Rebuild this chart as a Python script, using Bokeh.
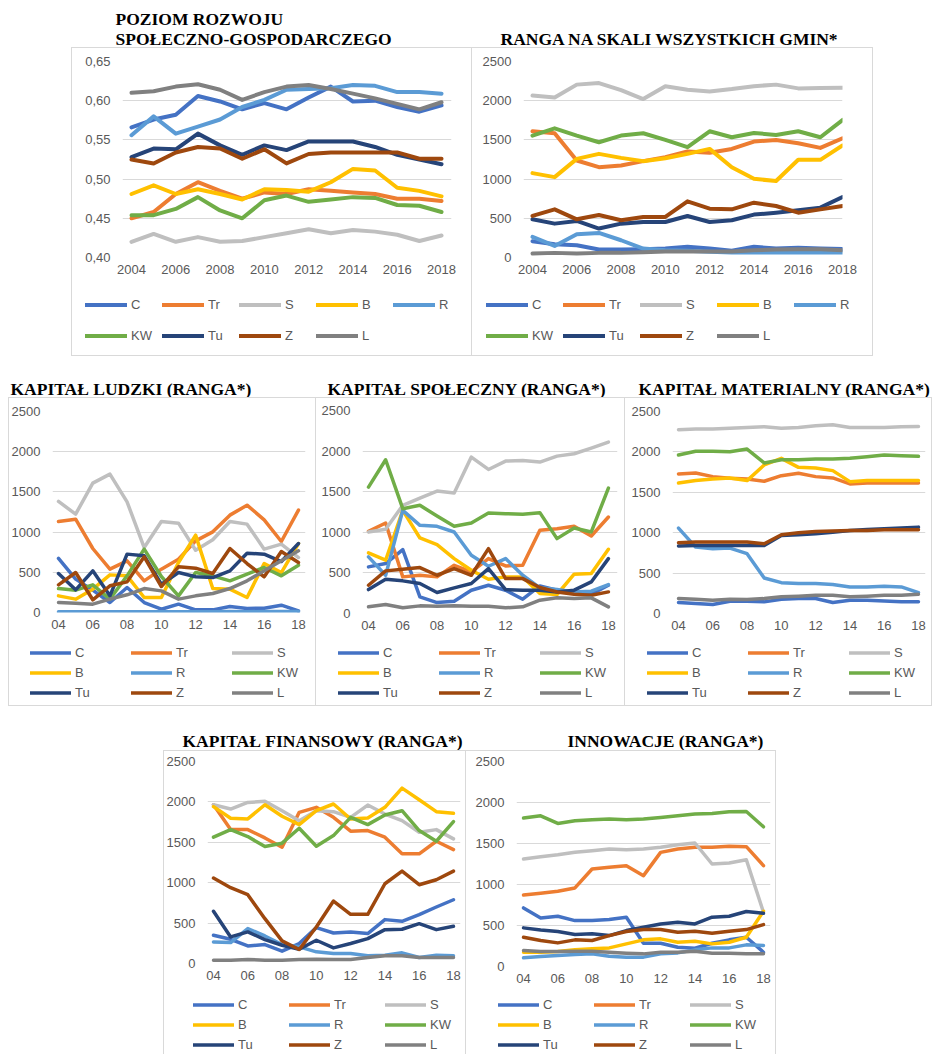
from bokeh.plotting import figure
from bokeh.models import (Range1d, FixedTicker, CustomJSTickFormatter, Legend,
                          LegendItem, Spacer, Label)
from bokeh.layouts import row, column
from bokeh.embed import file_html
from bokeh.resources import INLINE

# ---------------- data ----------------
years = list(range(2004, 2019))
series = ["C", "Tr", "S", "B", "R", "KW", "Tu", "Z", "L"]
colors = ["#4472C4", "#ED7D31", "#BFBFBF", "#FFC000", "#5B9BD5",
          "#70AD47", "#264478", "#9E480E", "#808080"]

year_ticks = [2004, 2006, 2008, 2010, 2012, 2014, 2016, 2018]
long_year_labels = ["2004", "2006", "2008", "2010", "2012", "2014", "2016", "2018"]
short_year_labels = ["04", "06", "08", "10", "12", "14", "16", "18"]
level_ticks = [0.40, 0.45, 0.50, 0.55, 0.60, 0.65]
level_labels = ["0,40", "0,45", "0,50", "0,55", "0,60", "0,65"]
rank_ticks = [0, 500, 1000, 1500, 2000, 2500]
rank_labels = ["0", "500", "1000", "1500", "2000", "2500"]

titles = [["POZIOM ROZWOJU", "SPOŁECZNO-GOSPODARCZEGO"],
          ["RANGA NA SKALI WSZYSTKICH GMIN*"],
          ["KAPITAŁ LUDZKI (RANGA*)"],
          ["KAPITAŁ SPOŁECZNY (RANGA*)"],
          ["KAPITAŁ MATERIALNY (RANGA*)"],
          ["KAPITAŁ FINANSOWY (RANGA*)"],
          ["INNOWACJE (RANGA*)"]]

poziom = {
    "C":  [0.566, 0.576, 0.582, 0.606, 0.599, 0.589, 0.597, 0.589, 0.604, 0.618, 0.599, 0.600, 0.592, 0.586, 0.594],
    "Tr": [0.450, 0.458, 0.481, 0.496, 0.485, 0.475, 0.483, 0.481, 0.487, 0.485, 0.483, 0.481, 0.475, 0.475, 0.472],
    "S":  [0.420, 0.430, 0.420, 0.426, 0.420, 0.421, 0.426, 0.431, 0.436, 0.431, 0.435, 0.433, 0.429, 0.421, 0.428],
    "B":  [0.481, 0.492, 0.481, 0.487, 0.481, 0.474, 0.487, 0.486, 0.484, 0.496, 0.513, 0.511, 0.489, 0.485, 0.478],
    "R":  [0.556, 0.580, 0.558, 0.567, 0.576, 0.592, 0.601, 0.614, 0.615, 0.616, 0.620, 0.619, 0.611, 0.611, 0.609],
    "KW": [0.454, 0.454, 0.462, 0.477, 0.460, 0.450, 0.473, 0.479, 0.471, 0.474, 0.477, 0.476, 0.467, 0.466, 0.458],
    "Tu": [0.528, 0.539, 0.538, 0.558, 0.543, 0.531, 0.543, 0.537, 0.548, 0.548, 0.548, 0.541, 0.531, 0.525, 0.519],
    "Z":  [0.525, 0.520, 0.534, 0.541, 0.539, 0.526, 0.538, 0.520, 0.532, 0.534, 0.534, 0.534, 0.534, 0.526, 0.526],
    "L":  [0.610, 0.612, 0.618, 0.621, 0.614, 0.601, 0.611, 0.618, 0.620, 0.615, 0.609, 0.603, 0.596, 0.589, 0.598],
}
ranga = {
    "C":  [208, 170, 157, 102, 102, 106, 114, 136, 114, 85, 136, 114, 123, 114, 110],
    "Tr": [1610, 1585, 1237, 1152, 1174, 1229, 1280, 1352, 1335, 1385, 1479, 1500, 1458, 1398, 1521],
    "S":  [2065, 2042, 2205, 2225, 2135, 2021, 2185, 2140, 2118, 2148, 2185, 2205, 2157, 2161, 2165],
    "B":  [1076, 1025, 1258, 1322, 1271, 1229, 1267, 1322, 1385, 1152, 1004, 975, 1246, 1246, 1428],
    "R":  [263, 148, 297, 314, 220, 114, 93, 85, 72, 64, 64, 64, 64, 64, 64],
    "KW": [1555, 1648, 1555, 1470, 1555, 1585, 1500, 1407, 1610, 1534, 1589, 1563, 1610, 1534, 1754],
    "Tu": [487, 432, 466, 369, 432, 453, 453, 530, 453, 475, 547, 572, 602, 636, 771],
    "Z":  [530, 614, 487, 542, 475, 517, 517, 716, 623, 614, 699, 657, 572, 614, 657],
    "L":  [51, 59, 51, 59, 59, 68, 76, 76, 76, 76, 93, 102, 106, 106, 93],
}
ludzki = {
    "C":  [672, 415, 278, 124, 311, 124, 41, 104, 33, 33, 75, 50, 54, 91, 21],
    "Tr": [1132, 1161, 796, 539, 643, 394, 539, 663, 891, 1003, 1211, 1335, 1153, 883, 1273],
    "S":  [1381, 1223, 1609, 1721, 1376, 808, 1132, 1111, 775, 904, 1132, 1099, 788, 850, 684],
    "B":  [207, 166, 290, 468, 456, 187, 187, 622, 962, 298, 290, 187, 609, 497, 858],
    "R":  [8, 8, 10, 10, 10, 8, 8, 8, 8, 10, 12, 10, 12, 12, 12],
    "KW": [298, 278, 344, 166, 456, 788, 448, 207, 497, 456, 394, 477, 560, 456, 589],
    "Tu": [485, 282, 518, 207, 726, 705, 352, 497, 444, 435, 518, 738, 726, 634, 858],
    "Z":  [344, 497, 158, 332, 381, 692, 323, 568, 551, 485, 796, 609, 444, 759, 622],
    "L":  [124, 116, 104, 166, 220, 298, 269, 166, 207, 236, 298, 394, 518, 643, 767],
}
spoleczny = {
    "C":  [574, 615, 787, 205, 135, 152, 287, 348, 287, 176, 340, 287, 246, 238, 348],
    "Tr": [1012, 1115, 451, 471, 451, 594, 512, 676, 586, 594, 1025, 1045, 1074, 955, 1188],
    "S":  [1004, 1037, 1332, 1422, 1508, 1483, 1926, 1774, 1877, 1885, 1865, 1938, 1967, 2037, 2110],
    "B":  [746, 656, 1270, 930, 848, 676, 533, 422, 451, 451, 246, 234, 484, 492, 791],
    "R":  [697, 471, 1270, 1086, 1074, 1004, 717, 582, 676, 471, 316, 295, 266, 275, 357],
    "KW": [1557, 1893, 1291, 1332, 1201, 1074, 1115, 1238, 1229, 1221, 1242, 922, 1053, 1004, 1545],
    "Tu": [295, 422, 402, 369, 258, 316, 369, 553, 295, 287, 287, 266, 287, 389, 676],
    "Z":  [348, 525, 545, 566, 471, 553, 471, 799, 430, 430, 320, 266, 238, 225, 266],
    "L":  [82, 111, 70, 94, 90, 94, 90, 90, 70, 82, 164, 193, 184, 193, 82],
}
materialny = {
    "C":  [136, 123, 111, 152, 152, 144, 177, 185, 185, 136, 164, 164, 156, 144, 144],
    "Tr": [1727, 1739, 1694, 1674, 1665, 1637, 1706, 1735, 1694, 1678, 1604, 1616, 1616, 1616, 1616],
    "S":  [2274, 2282, 2282, 2294, 2303, 2311, 2294, 2303, 2323, 2336, 2303, 2303, 2303, 2311, 2315],
    "B":  [1616, 1645, 1665, 1678, 1645, 1838, 1920, 1809, 1801, 1768, 1632, 1645, 1645, 1645, 1645],
    "R":  [1057, 822, 802, 810, 740, 440, 382, 370, 370, 358, 329, 329, 337, 329, 259],
    "KW": [1961, 2007, 2007, 2003, 2035, 1863, 1904, 1904, 1912, 1912, 1920, 1941, 1961, 1953, 1945],
    "Tu": [835, 843, 843, 843, 843, 843, 966, 975, 987, 1007, 1028, 1040, 1049, 1057, 1069],
    "Z":  [876, 884, 884, 884, 884, 864, 975, 999, 1016, 1020, 1028, 1028, 1036, 1036, 1036],
    "L":  [185, 177, 164, 177, 173, 185, 206, 214, 226, 226, 206, 214, 226, 226, 238],
}
finansowy = {
    "C":  [350, 300, 218, 234, 152, 247, 444, 378, 391, 370, 543, 522, 604, 699, 789],
    "Tr": [1965, 1657, 1657, 1554, 1439, 1871, 1933, 1809, 1637, 1645, 1563, 1357, 1357, 1513, 1410],
    "S":  [1965, 1912, 1994, 2007, 1891, 1768, 1891, 1879, 1809, 1961, 1850, 1768, 1624, 1657, 1542],
    "B":  [1941, 1797, 1789, 1965, 1822, 1719, 1891, 1974, 1789, 1801, 1933, 2171, 2027, 1879, 1859],
    "R":  [267, 259, 432, 341, 234, 206, 144, 123, 123, 95, 103, 132, 74, 103, 95],
    "KW": [1563, 1657, 1571, 1447, 1489, 1674, 1452, 1583, 1809, 1719, 1838, 1891, 1645, 1513, 1756],
    "Tu": [646, 329, 391, 296, 226, 177, 288, 193, 247, 308, 419, 424, 493, 419, 461],
    "Z":  [1057, 938, 851, 555, 280, 173, 452, 773, 609, 609, 987, 1143, 975, 1036, 1143],
    "L":  [41, 41, 49, 41, 41, 49, 53, 49, 49, 74, 95, 95, 74, 74, 74],
}
innowacje = {
    "C":  [714, 592, 613, 560, 560, 572, 601, 284, 284, 235, 223, 284, 325, 357, 174],
    "Tr": [872, 893, 917, 958, 1189, 1209, 1230, 1108, 1392, 1433, 1453, 1453, 1465, 1461, 1230],
    "S":  [1311, 1339, 1363, 1392, 1412, 1433, 1424, 1433, 1453, 1485, 1506, 1250, 1262, 1302, 661],
    "B":  [174, 174, 183, 203, 215, 227, 276, 325, 337, 296, 308, 276, 296, 357, 674],
    "R":  [106, 122, 134, 146, 154, 126, 114, 114, 154, 166, 203, 227, 227, 264, 256],
    "KW": [1810, 1838, 1745, 1777, 1790, 1798, 1790, 1798, 1818, 1838, 1859, 1867, 1887, 1891, 1704],
    "Tu": [471, 446, 426, 390, 398, 377, 438, 479, 519, 540, 519, 601, 613, 670, 649],
    "Z":  [357, 317, 288, 325, 317, 377, 426, 450, 450, 418, 430, 406, 430, 450, 511],
    "L":  [195, 183, 183, 187, 187, 174, 162, 154, 174, 174, 187, 162, 162, 154, 154],
}

TEXT_GREY = "#595959"
GRID = "#D9D9D9"
SANS = "Liberation Sans"
SERIF = "Liberation Serif"


def label_formatter(tvals, tlabels):
    return CustomJSTickFormatter(
        args=dict(tvals=tvals, tlabels=tlabels),
        code="for (let i = 0; i < tvals.length; i++) {"
             " if (Math.abs(tvals[i] - tick) < 1e-9) return tlabels[i]; }"
             " return '';")


def box_styles(top=None, left=True, right=True, bottom=False):
    """CSS background lines that draw the light-grey panel frame."""
    g = "linear-gradient(#D9D9D9, #D9D9D9)"
    t = top if top is not None else 0
    imgs, pos, size = [], [], []
    if top is not None:
        imgs.append(g); pos.append(f"0px {t}px"); size.append("100% 1px")
    if left:
        imgs.append(g); pos.append(f"0px {t}px"); size.append(f"1px calc(100% - {t}px)")
    if right:
        imgs.append(g); pos.append(f"100% {t}px"); size.append(f"1px calc(100% - {t}px)")
    if bottom:
        imgs.append(g); pos.append("0px 100%"); size.append("100% 1px")
    st = {"background-color": "white"}
    if imgs:
        st.update({"background-image": ", ".join(imgs),
                   "background-position": ", ".join(pos),
                   "background-size": ", ".join(size),
                   "background-repeat": "no-repeat"})
    return st


def blank_strip(W, H):
    f = figure(width=W, height=H, x_range=Range1d(0, 1), y_range=Range1d(0, 1),
               output_backend="svg", toolbar_location=None, tools="",
               x_axis_location=None, y_axis_location=None,
               min_border_left=0, min_border_right=0,
               min_border_top=0, min_border_bottom=0)
    f.grid.visible = False
    f.outline_line_color = None
    f.border_fill_color = None
    f.background_fill_color = None
    return f


def panel(data, title_lines, cfg):
    W = cfg["width"]
    bl, br, bt, bb = cfg["borders"]
    fh = cfg["frame_h"]
    TH = cfg["title_h"]
    Hm = bt + fh + bb

    # ---- title strip ----
    t = blank_strip(W, TH)
    for txt, ty in zip(title_lines, cfg["title_y"]):
        t.add_layout(Label(x=cfg["title_x"], y=ty, x_units="screen", y_units="screen",
                           text=txt, text_font=SERIF, text_font_style="bold",
                           text_font_size="17.5px",
                           text_color="black", text_align="left",
                           text_baseline="middle"))
    t.styles = {"background-color": "white"}

    # ---- chart ----
    p = figure(width=W, height=Hm, x_range=Range1d(*cfg["xr"]),
               y_range=Range1d(*cfg["yr"]), output_backend="svg",
               toolbar_location=None, tools="",
               min_border_left=bl, min_border_right=br,
               min_border_top=bt, min_border_bottom=bb)
    p.outline_line_color = None
    p.border_fill_color = None
    p.background_fill_color = None
    p.xgrid.visible = False
    p.ygrid.grid_line_color = GRID
    p.ygrid.grid_line_width = 1

    p.yaxis.ticker = FixedTicker(ticks=cfg["yticks"])
    p.yaxis.formatter = label_formatter(cfg["yticks"], cfg["ylabels"])
    p.xaxis.ticker = FixedTicker(ticks=year_ticks)
    p.xaxis.formatter = label_formatter(year_ticks, cfg["xlabels"])
    for ax in (p.xaxis[0], p.yaxis[0]):
        ax.axis_line_color = None
        ax.major_tick_line_color = None
        ax.minor_tick_line_color = None
        ax.major_tick_out = 0
        ax.major_tick_in = 0
        ax.major_label_text_font = SANS
        ax.major_label_text_font_size = "13px"
        ax.major_label_text_color = TEXT_GREY
    p.yaxis.major_label_standoff = 12
    p.xaxis.major_label_standoff = 7

    for name, col in zip(series, colors):
        p.line(years, data[name], line_color=col, line_width=cfg["lw"],
               line_cap="round", line_join="round")
    p.styles = box_styles(top=0, left=cfg["box_left"])

    # ---- legend strip (own canvas, so the legend is not clipped) ----
    HL = cfg["row_h"] - TH - Hm
    q = blank_strip(W, HL)
    items = []
    for name, col in zip(series, colors):
        # legend-key renderer: first point of the series, outside this strip's ranges
        r = q.line(years[:1], data[name][:1], line_color=col, line_width=cfg["lw"],
                   line_cap="round")
        items.append(LegendItem(label=name, renderers=[r]))
    lg = cfg["legend"]
    legend = Legend(items=items, location=lg["loc"], orientation="horizontal",
                    ncols=lg["ncols"], glyph_width=lg["gw"], glyph_height=lg["gh"],
                    label_width=lg["lw"], label_standoff=4, spacing=lg["sp"],
                    padding=0, margin=0, border_line_color=None,
                    background_fill_alpha=0,
                    label_text_font=SANS, label_text_font_size="13px",
                    label_text_color=TEXT_GREY, label_height=15)
    q.add_layout(legend)
    q.styles = box_styles(top=None, left=cfg["box_left"], bottom=cfg["box_bottom"])
    return column(row(t), p, row(q))


cfgs = [
    dict(width=401, row_h=356, title_h=47, borders=(51, 21, 14, 30), frame_h=196,
         xr=(2003.594, 2018.45), yr=(0.40, 0.65),
         yticks=level_ticks, ylabels=level_labels, xlabels=long_year_labels, lw=4,
         legend=dict(loc=(14, 7.5), ncols=5, gw=42, gh=27, lw=27, sp=4),
         box_left=True, box_bottom=True, title_x=44, title_y=[29, 9]),
    dict(width=401, row_h=356, title_h=47, borders=(51, 31, 14, 30), frame_h=196,
         xr=(2003.594, 2018.0), yr=(0, 2500),
         yticks=rank_ticks, ylabels=rank_labels, xlabels=long_year_labels, lw=4,
         legend=dict(loc=(14, 7.5), ncols=5, gw=42, gh=27, lw=27, sp=4),
         box_left=False, box_bottom=True, title_x=28, title_y=[9]),
    dict(width=308, row_h=350, title_h=41, borders=(44, 11, 14, 30), frame_h=201,
         xr=(2003.65, 2018.41), yr=(0, 2500),
         yticks=rank_ticks, ylabels=rank_labels, xlabels=short_year_labels, lw=3.5,
         legend=dict(loc=(22, 5), ncols=3, gw=41, gh=17, lw=53, sp=3),
         box_left=True, box_bottom=True, title_x=2, title_y=[9]),
    dict(width=309, row_h=350, title_h=41, borders=(46, 8, 13, 30), frame_h=203,
         xr=(2003.65, 2018.53), yr=(0, 2500),
         yticks=rank_ticks, ylabels=rank_labels, xlabels=short_year_labels, lw=3.5,
         legend=dict(loc=(22, 5), ncols=3, gw=41, gh=17, lw=53, sp=3),
         box_left=False, box_bottom=True, title_x=11, title_y=[9]),
    dict(width=307, row_h=350, title_h=41, borders=(47, 7, 14, 29), frame_h=202,
         xr=(2003.65, 2018.41), yr=(0, 2500),
         yticks=rank_ticks, ylabels=rank_labels, xlabels=short_year_labels, lw=3.5,
         legend=dict(loc=(22, 5), ncols=3, gw=41, gh=17, lw=53, sp=3),
         box_left=False, box_bottom=True, title_x=13, title_y=[9]),
    dict(width=303, row_h=348, title_h=44, borders=(44, 6, 11, 30), frame_h=202,
         xr=(2003.65, 2018.41), yr=(0, 2500),
         yticks=rank_ticks, ylabels=rank_labels, xlabels=short_year_labels, lw=3.5,
         legend=dict(loc=(30, 1.5), ncols=3, gw=41, gh=17, lw=48, sp=3),
         box_left=True, box_bottom=False, title_x=19, title_y=[10]),
    dict(width=310, row_h=348, title_h=44, borders=(50, 6, 11, 27), frame_h=205,
         xr=(2003.59, 2018.41), yr=(0, 2500),
         yticks=rank_ticks, ylabels=rank_labels, xlabels=short_year_labels, lw=3.5,
         legend=dict(loc=(32, 1.5), ncols=3, gw=41, gh=17, lw=48, sp=3),
         box_left=False, box_bottom=False, title_x=101, title_y=[10]),
]

datasets = [poziom, ranga, ludzki, spoleczny, materialny, finansowy, innowacje]
panels = [panel(d, t, c) for d, t, c in zip(datasets, titles, cfgs)]

layout = column(
    row(Spacer(width=71, height=356), panels[0], panels[1]),
    row(Spacer(width=8, height=350), panels[2], panels[3], panels[4]),
    row(Spacer(width=163, height=348), panels[5], panels[6]),
)

open("out.html", "w").write(file_html(layout, INLINE))
